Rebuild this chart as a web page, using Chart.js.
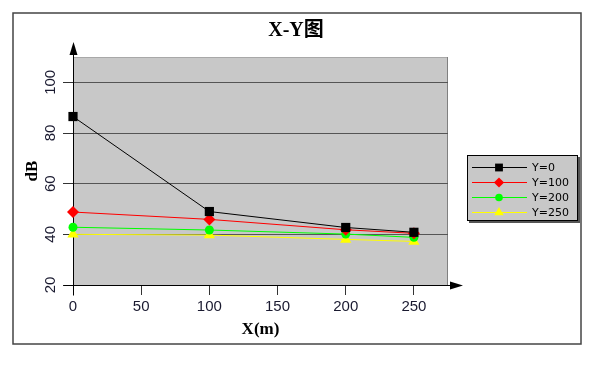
<!DOCTYPE html>
<html lang="zh">

<head>
    <meta charset="UTF-8">
    <title>X-Y图</title>
    <script src="https://cdn.jsdelivr.net/npm/chart.js"></script>
    <style>
        body {
            margin: 0;
            background-color: #ffffff;
        }

        .container {
            width: 612px;
            height: 377px;
        }
    </style>
</head>

<body>
    <div class="container">
        <canvas id="xyChart"></canvas>
    </div>

    <script>
        // valores
        const xValues = [0, 100, 200, 250];
        const seriesNames = ['Y=0', 'Y=100', 'Y=200', 'Y=250'];
        const y0 = [86.5, 49, 42.7, 40.8];
        const y100 = [48.8, 45.9, 41.8, 40.4];
        const y200 = [42.8, 41.7, 40.1, 38.8];
        const y250 = [40, 39.7, 38, 37.2];
        const yTicks = [20, 40, 60, 80, 100];
        const xTicks = [0, 50, 100, 150, 200, 250];

        const lineColors = ['#000000', '#ff0000', '#00ff00', '#ffff00'];
        const pointStyles = ['rect', 'rectRot', 'circle', 'triangle'];
        const pointSizes = [6.5, 6, 4.5, 6.5];

        function toPoints(values) {
            return xValues.map((x, i) => ({ x: x, y: values[i] }));
        }

        const datasets = [y0, y100, y200, y250].map((values, i) => ({
            label: seriesNames[i],
            data: toPoints(values),
            borderColor: lineColors[i],
            backgroundColor: lineColors[i],
            borderWidth: 1,
            pointStyle: pointStyles[i],
            pointRadius: pointSizes[i],
            pointBorderWidth: 0,
            tension: 0,
            clip: false
        }));

        // fondo del área, marco, flechas, título y leyenda
        const decorations = {
            id: 'decorations',
            beforeDraw(chart) {
                const { ctx, chartArea: a } = chart;
                ctx.save();
                ctx.fillStyle = '#ffffff';
                ctx.fillRect(0, 0, chart.width, chart.height);
                ctx.strokeStyle = '#444444';
                ctx.lineWidth = 1.5;
                ctx.strokeRect(13, 13, 568, 331);
                ctx.fillStyle = '#c8c8c8';
                ctx.fillRect(a.left, a.top, a.right - a.left, a.bottom - a.top);
                ctx.lineWidth = 1;
                ctx.strokeStyle = '#a8a8a8';
                ctx.beginPath();
                ctx.moveTo(a.left, a.top + 0.5);
                ctx.lineTo(a.right, a.top + 0.5);
                ctx.stroke();
                ctx.strokeStyle = '#808080';
                ctx.beginPath();
                ctx.moveTo(a.right - 0.5, a.top);
                ctx.lineTo(a.right - 0.5, a.bottom);
                ctx.stroke();
                ctx.restore();
            },
            beforeDatasetsDraw(chart) {
                const { ctx, chartArea: a } = chart;
                const x0 = Math.round(a.left) + 0.5;
                const yb = Math.round(a.bottom) + 0.5;
                ctx.save();
                ctx.strokeStyle = '#000000';
                ctx.fillStyle = '#000000';
                ctx.lineWidth = 1;
                // ejes
                ctx.beginPath();
                ctx.moveTo(x0, yb + 10);
                ctx.lineTo(x0, a.top - 6);
                ctx.moveTo(x0 - 10, yb);
                ctx.lineTo(a.right + 6, yb);
                ctx.stroke();
                // flechas
                ctx.beginPath();
                ctx.moveTo(x0, a.top - 15);
                ctx.lineTo(x0 - 4, a.top - 2);
                ctx.lineTo(x0 + 4, a.top - 2);
                ctx.closePath();
                ctx.fill();
                ctx.beginPath();
                ctx.moveTo(a.right + 15, yb);
                ctx.lineTo(a.right + 2, yb - 4);
                ctx.lineTo(a.right + 2, yb + 4);
                ctx.closePath();
                ctx.fill();
                ctx.restore();
            },
            afterDatasetsDraw(chart) {
                const { ctx } = chart;
                ctx.save();
                // título
                ctx.fillStyle = '#000000';
                ctx.font = 'bold 20px "Liberation Serif", "Noto Sans CJK SC"';
                ctx.textAlign = 'center';
                ctx.textBaseline = 'middle';
                ctx.fillText('X-Y图', 296, 31);

                // leyenda
                const lx = 467, ly = 155, lw = 111, lh = 66;
                ctx.fillStyle = '#555555';
                ctx.fillRect(lx + 2, ly + 2, lw, lh);
                ctx.fillStyle = '#c8c8c8';
                ctx.fillRect(lx, ly, lw, lh);
                ctx.strokeStyle = '#000000';
                ctx.lineWidth = 1;
                ctx.strokeRect(lx + 0.5, ly + 0.5, lw - 1, lh - 1);
                ctx.font = '11px "DejaVu Sans"';
                ctx.textAlign = 'left';
                chart.data.datasets.forEach((ds, i) => {
                    const rowY = ly + 12 + i * 15;
                    ctx.strokeStyle = ds.borderColor;
                    ctx.beginPath();
                    ctx.moveTo(lx + 5, rowY + 0.5);
                    ctx.lineTo(lx + 60, rowY + 0.5);
                    ctx.stroke();
                    ctx.fillStyle = ds.backgroundColor;
                    Chart.helpers.drawPoint(ctx, {
                        pointStyle: ds.pointStyle,
                        radius: ds.pointRadius * 0.85,
                        borderWidth: 0,
                        rotation: 0
                    }, lx + 32, rowY + 0.5);
                    ctx.fillStyle = '#000000';
                    ctx.fillText(ds.label, lx + 65, rowY + 1);
                });
                ctx.restore();
            }
        };

        const ctx = document.getElementById('xyChart').getContext('2d');
        const chart = new Chart(ctx, {
            type: 'line',
            data: { datasets: datasets },
            options: {
                responsive: true,
                maintainAspectRatio: false,
                animation: false,
                layout: {
                    padding: { top: 57, right: 164, bottom: 0, left: 0 }
                },
                plugins: {
                    legend: { display: false },
                    tooltip: { enabled: false }
                },
                scales: {
                    x: {
                        type: 'linear',
                        min: 0,
                        max: 275,
                        afterFit: scale => { scale.height = 92; },
                        afterBuildTicks: scale => {
                            scale.ticks = xTicks.map(v => ({ value: v }));
                        },
                        border: { display: false },
                        grid: {
                            drawOnChartArea: false,
                            tickLength: 10,
                            tickColor: '#333333'
                        },
                        ticks: {
                            padding: 3,
                            color: '#1a1a30',
                            font: { family: '"Liberation Sans"', size: 15 }
                        },
                        title: {
                            display: true,
                            text: 'X(m)',
                            color: '#000000',
                            padding: { top: 0, bottom: 37 },
                            font: { family: '"Liberation Serif", "Noto Sans CJK SC"', size: 17, weight: 'bold' }
                        }
                    },
                    y: {
                        min: 20,
                        max: 110,
                        afterFit: scale => { scale.width = 73; },
                        afterBuildTicks: scale => {
                            scale.ticks = yTicks.map(v => ({ value: v }));
                        },
                        border: { display: false },
                        grid: {
                            color: ctx => ctx.tick && ctx.tick.value === 20 ? 'rgba(0,0,0,0)' : '#555555',
                            tickLength: 10,
                            tickColor: '#333333'
                        },
                        ticks: {
                            minRotation: 90,
                            maxRotation: 90,
                            crossAlign: 'center',
                            padding: 0,
                            color: '#1a1a30',
                            font: { family: '"Liberation Sans"', size: 15 }
                        },
                        title: {
                            display: true,
                            text: 'dB',
                            color: '#000000',
                            padding: { top: 22, bottom: 0 },
                            font: { family: '"Liberation Serif"', size: 17, weight: 'bold' }
                        }
                    }
                }
            },
            plugins: [decorations]
        });
    </script>
</body>

</html>
